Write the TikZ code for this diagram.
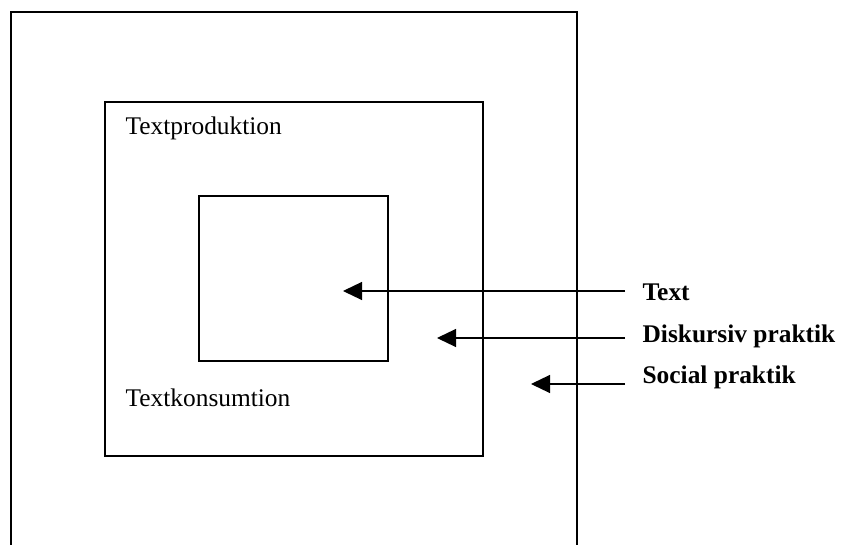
\documentclass[tikz,border=0pt]{standalone}
\usepackage{fontspec}
\setmainfont{Liberation Serif}
\usetikzlibrary{arrows.meta}

\begin{document}
\begin{tikzpicture}[x=0.5pt, y=-0.5pt, line width=0.6pt,
    box/.style={draw, rectangle, inner sep=0pt},
    lbl/.style={anchor=base west, inner sep=0pt, font=\fontsize{12.7}{15}\selectfont},
    praktik/.style={lbl, font=\fontsize{12.7}{15}\selectfont\bfseries},
    pil/.style={-{Triangle[length=9.5pt, width=9pt]}}]
        \useasboundingbox (0,0) rectangle (841,545);

        %boxes
        \draw (11,548) -- (11,12) -- (577,12) -- (577,548);
        \node[box, minimum width=189pt, minimum height=177pt] (mellan) at (294,279) {};
        \node[box, minimum width=94.5pt, minimum height=82.5pt] (inre) at (293.5,278.5) {};

        %texts in boxes
        \node[lbl] (prod) at (125,135) {Textproduktion};
        \node[lbl] (kons) at (125,407) {Textkonsumtion};

        %labels
        \node[praktik] (text) at (642,300) {Text};
        \node[praktik] (disk) at (642,343) {Diskursiv praktik};
        \node[praktik] (soc) at (642,384) {Social praktik};

        %tips
        \coordinate (texttip) at (343,291);
        \coordinate (disktip) at (437,338);
        \coordinate (soctip) at (531,384);

        %arrows
        \draw[pil] (625,291) -- (texttip);
        \draw[pil] (625,338) -- (disktip);
        \draw[pil] (625,384) -- (soctip);
    \end{tikzpicture}
\end{document}
